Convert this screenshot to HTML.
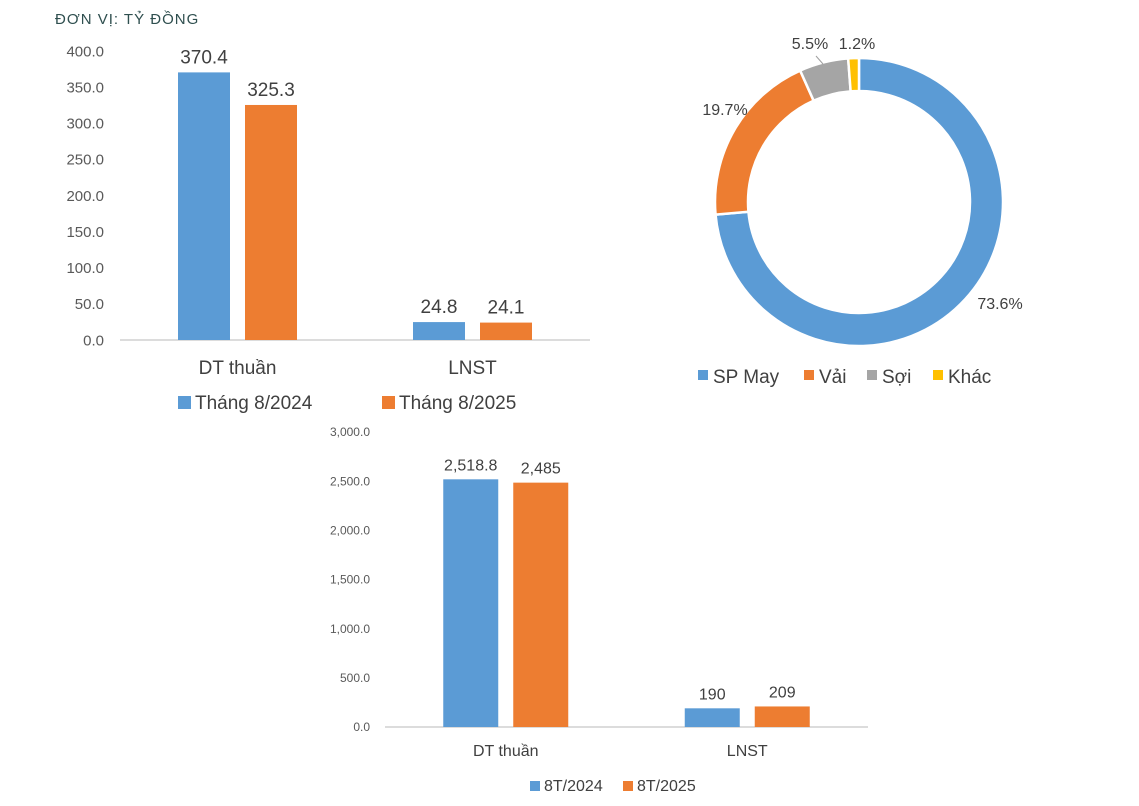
<!DOCTYPE html>
<html><head><meta charset="utf-8">
<style>
html,body{margin:0;padding:0;background:#fff;}
body{width:1139px;height:801px;overflow:hidden;font-family:"Liberation Sans","DejaVu Sans",sans-serif;}
svg text{font-family:"Liberation Sans","DejaVu Sans",sans-serif;}
</style></head>
<body>
<svg id="root" width="1139" height="801" viewBox="0 0 1139 801">
<text x="55" y="24" font-size="15" fill="#2f4f4f" letter-spacing="1">ĐƠN VỊ: TỶ ĐỒNG</text>
<g id="c1"></g>
<g id="c2"></g>
<g id="c3"></g>
</svg>
<script>
const NS="http://www.w3.org/2000/svg";
// Chart 1 data
const c1Categories=["DT thuần","LNST"];
const c1Series2024=[370.4,24.8];
const c1Series2025=[325.3,24.1];
const c1Labels2024=["370.4","24.8"];
const c1Labels2025=["325.3","24.1"];
const c1Ticks=[0,50,100,150,200,250,300,350,400];
const c1LegendNames=["Tháng 8/2024","Tháng 8/2025"];
// Chart 2 data
const pieNames=["SP May","Vải","Sợi","Khác"];
const pieValues=[73.6,19.7,5.5,1.2];
const pieLabels=["73.6%","19.7%","5.5%","1.2%"];
// Chart 3 data
const c3Categories=["DT thuần","LNST"];
const c3Series2024=[2518.8,190];
const c3Series2025=[2485,209];
const c3Labels2024=["2,518.8","190"];
const c3Labels2025=["2,485","209"];
const c3Ticks=[0,500,1000,1500,2000,2500,3000];
const c3TickLabels=["0.0","500.0","1,000.0","1,500.0","2,000.0","2,500.0","3,000.0"];
const c3LegendNames=["8T/2024","8T/2025"];

const BLUE="#5B9BD5",ORANGE="#ED7D31",GREY="#A5A5A5",YELLOW="#FFC000";
function mk(tag,attrs,parent){const e=document.createElementNS(NS,tag);for(const k in attrs)e.setAttribute(k,attrs[k]);parent.appendChild(e);return e;}

function barChart(g,o){
  const y=v=>o.y0-(v/o.max)*(o.y0-o.yTop);
  o.ticks.forEach((t,i)=>{
    const tx=mk("text",{x:o.tickX,y:y(t)+o.tickFs*0.35,"text-anchor":"end","font-size":o.tickFs,fill:"#595959"},g);
    tx.textContent=o.tickLabels?o.tickLabels[i]:t.toFixed(1);
    
    
  });
  const ax=mk("line",{x1:o.axX1,x2:o.axX2,y1:o.y0,y2:o.y0,stroke:"#d0d0d0","stroke-width":1.5},g);
  
  
  const bandW=(o.axX2-o.axX1)/o.cats.length;
  o.cats.forEach((c,i)=>{
    const cx=o.axX1+bandW*(i+0.5);
    [[o.s1,o.l1,BLUE,-1],[o.s2,o.l2,ORANGE,1]].forEach(([s,l,col,d])=>{
      const bx=d<0?cx-o.gap/2-o.bw:cx+o.gap/2;
      const r=mk("rect",{x:bx,y:y(s[i]),width:o.bw,height:o.y0-y(s[i]),fill:col},g);
      
      
      const t=mk("text",{x:bx+o.bw/2,y:y(s[i])-o.lblOff,"text-anchor":"middle","font-size":o.lblFs,fill:"#404040"},g);
      t.textContent=l[i];
      
      
    });
    const ct=mk("text",{x:cx,y:o.catY,"text-anchor":"middle","font-size":o.catFs,fill:"#404040"},g);
    ct.textContent=c;
    
    
  });
  o.legend.forEach((n,i)=>{
    const lx=o.legX[i];
    const sq=mk("rect",{x:lx,y:o.legY-o.legSq+1,width:o.legSq,height:o.legSq,fill:i?ORANGE:BLUE},g);
    
    
    const lt=mk("text",{x:lx+o.legSq+4,y:o.legY+1,"font-size":o.legFs,fill:"#404040"},g);
    lt.textContent=n;
    
    
  });
}

barChart(document.getElementById("c1"),{cats:c1Categories,s1:c1Series2024,s2:c1Series2025,l1:c1Labels2024,l2:c1Labels2025,
  ticks:c1Ticks,max:400,y0:340,yTop:51,tickX:104,tickFs:15,axX1:120,axX2:590,bw:52,gap:15,lblOff:9,lblFs:19,
  catY:374,catFs:19,legend:c1LegendNames,legX:[178,382],legY:408,legSq:13,legFs:19});

barChart(document.getElementById("c3"),{cats:c3Categories,s1:c3Series2024,s2:c3Series2025,l1:c3Labels2024,l2:c3Labels2025,
  ticks:c3Ticks,tickLabels:c3TickLabels,max:3000,y0:727,yTop:432,tickX:370,tickFs:12,axX1:385,axX2:868,bw:55,gap:15,lblOff:9,lblFs:16,
  catY:756,catFs:16,legend:c3LegendNames,legX:[530,623],legY:790,legSq:10,legFs:16});

// Donut
(function(){
  const g=document.getElementById("c2");
  const cx=859,cy=202,R=144,r=111;
  const cols=[BLUE,ORANGE,GREY,YELLOW];
  const total=pieValues.reduce((a,b)=>a+b,0);
  let a0=0;
  const pt=(rad,a)=>[cx+rad*Math.sin(a),cy-rad*Math.cos(a)];
  const lblPos=[[1000,309,"middle"],[725,115,"middle"],[810,49,"middle"],[857,49,"middle"]];
  pieValues.forEach((v,i)=>{
    const a1=a0+v/total*2*Math.PI;
    const large=(a1-a0)>Math.PI?1:0;
    const p1=pt(R,a0),p2=pt(R,a1),p3=pt(r,a1),p4=pt(r,a0);
    const p=mk("path",{d:`M${p1} A${R},${R} 0 ${large} 1 ${p2} L${p3} A${r},${r} 0 ${large} 0 ${p4} Z`,fill:cols[i],stroke:"#fff","stroke-width":2.5},g);
    
    
    const [lx,ly,an]=lblPos[i];
    const t=mk("text",{x:lx,y:ly,"text-anchor":an,"font-size":16,fill:"#404040"},g);
    t.textContent=pieLabels[i];
    
    
    a0=a1;
  });
  const ll=mk("line",{x1:816,y1:56,x2:823,y2:64,stroke:"#a0a0a0","stroke-width":1},g);
  
  
  const legX=[698,804,867,933];
  pieNames.forEach((n,i)=>{
    const sq=mk("rect",{x:legX[i],y:370,width:10,height:10,fill:cols[i]},g);
    
    
    const t=mk("text",{x:legX[i]+15,y:383,"font-size":19,fill:"#404040"},g);
    t.textContent=n;
    
    
  });
})();
</script>
</body></html>
